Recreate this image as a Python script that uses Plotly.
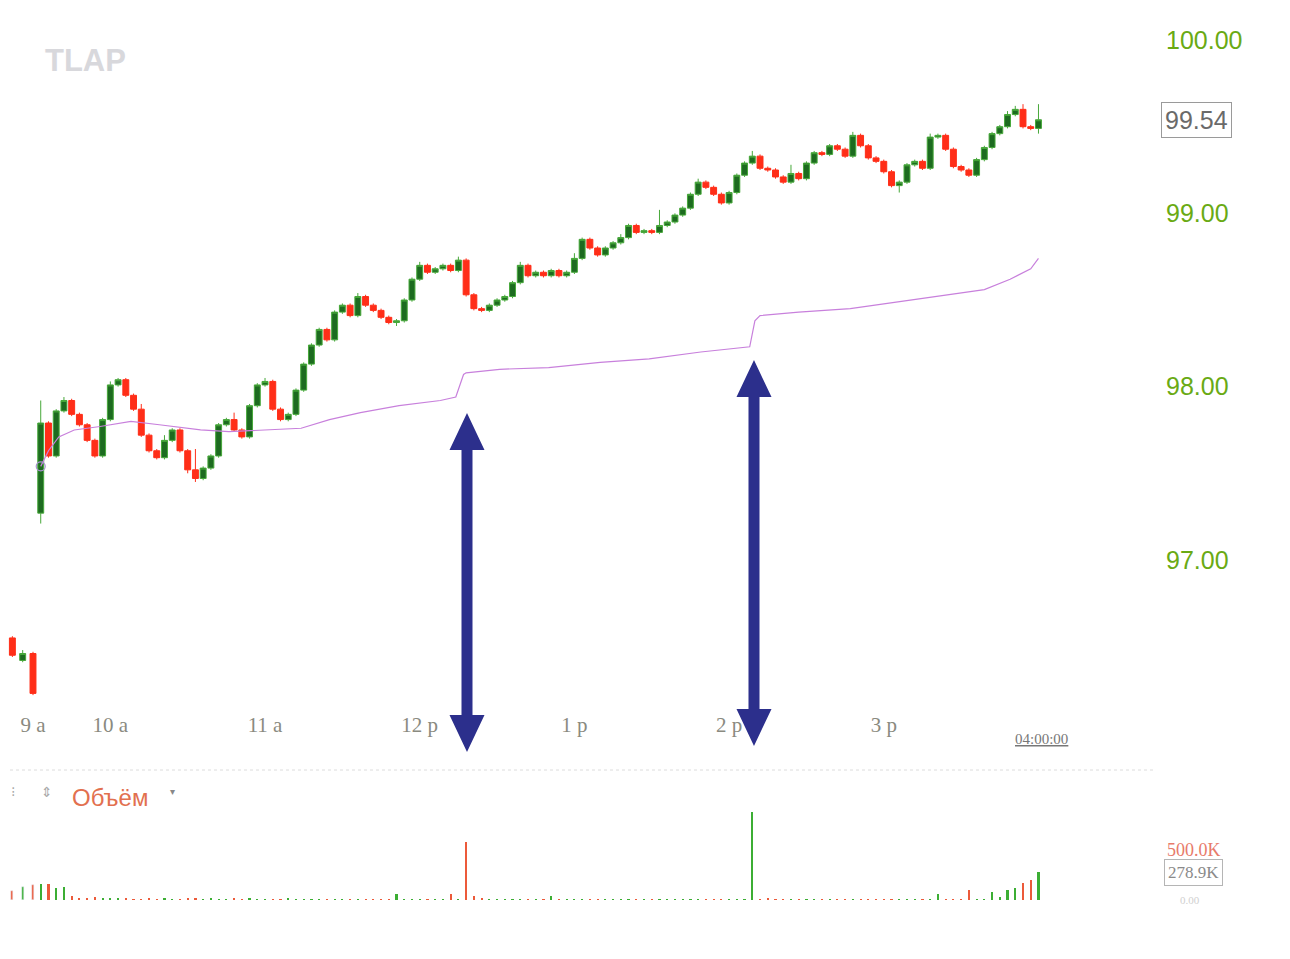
import plotly.graph_objects as go
import pandas as pd

DAY = "2024-03-04 "

# ---------------- data ----------------
first_open = 97.27
close = [97.79, 97.60, 97.86, 97.92, 97.84, 97.78, 97.69, 97.60, 97.81, 98.01,
         98.04, 97.95, 97.87, 97.72, 97.63, 97.59, 97.69, 97.75, 97.63, 97.52,
         97.47, 97.53, 97.60, 97.78, 97.81, 97.75, 97.71, 97.89, 98.01, 98.03,
         97.87, 97.81, 97.84, 97.98, 98.13, 98.24, 98.33, 98.27, 98.43, 98.47,
         98.41, 98.52, 98.47, 98.44, 98.40, 98.37, 98.38, 98.50, 98.62, 98.70,
         98.66, 98.68, 98.70, 98.67, 98.73, 98.53, 98.45, 98.44, 98.47, 98.50,
         98.52, 98.60, 98.70, 98.64, 98.66, 98.64, 98.67, 98.64, 98.66, 98.74,
         98.85, 98.80, 98.76, 98.80, 98.83, 98.86, 98.93, 98.89, 98.90, 98.89,
         98.93, 98.95, 98.99, 99.03, 99.11, 99.18, 99.15, 99.11, 99.06, 99.12,
         99.22, 99.29, 99.33, 99.26, 99.25, 99.21, 99.18, 99.23, 99.20, 99.29,
         99.35, 99.34, 99.39, 99.37, 99.33, 99.45, 99.39, 99.32, 99.30, 99.24,
         99.16, 99.18, 99.28, 99.30, 99.26, 99.44, 99.45, 99.37, 99.27, 99.25,
         99.22, 99.31, 99.38, 99.46, 99.50, 99.57, 99.60, 99.50, 99.49, 99.54]

# wick extensions in cents above max(open, close) and below min(open, close)
wick_up = [13, 1, 1, 2, 1, 1, 1, 1, 1, 2,
           1, 1, 1, 3, 1, 1, 3, 1, 1, 1,
           12, 1, 1, 1, 1, 4, 1, 1, 1, 2,
           1, 1, 1, 1, 1, 1, 1, 1, 1, 1,
           1, 2, 1, 1, 1, 1, 1, 1, 1, 2,
           1, 1, 1, 1, 2, 1, 1, 1, 1, 1,
           1, 1, 2, 1, 1, 1, 1, 1, 1, 3,
           1, 1, 1, 1, 1, 2, 1, 1, 1, 1,
           9, 1, 1, 1, 1, 2, 1, 1, 1, 1,
           1, 1, 3, 1, 1, 1, 1, 5, 1, 1,
           1, 1, 1, 1, 1, 2, 1, 1, 1, 1,
           1, 1, 1, 1, 1, 2, 1, 1, 1, 1,
           1, 1, 1, 1, 1, 2, 2, 3, 1, 9]
wick_dn = [6, 1, 1, 1, 1, 1, 1, 1, 1, 1,
           1, 1, 1, 1, 1, 1, 1, 1, 1, 2,
           2, 1, 1, 1, 1, 1, 1, 1, 1, 1,
           1, 1, 1, 1, 1, 1, 1, 1, 1, 1,
           1, 1, 1, 1, 1, 1, 2, 1, 1, 1,
           1, 1, 1, 1, 1, 1, 1, 1, 1, 1,
           1, 1, 1, 1, 1, 1, 1, 1, 1, 1,
           1, 1, 1, 1, 1, 1, 1, 1, 1, 1,
           1, 1, 1, 1, 1, 1, 1, 1, 1, 1,
           1, 1, 1, 1, 1, 1, 1, 1, 1, 1,
           1, 1, 1, 1, 1, 1, 1, 1, 1, 1,
           1, 4, 1, 1, 1, 1, 1, 1, 1, 1,
           1, 1, 1, 1, 1, 1, 1, 1, 1, 3]

volume_k = [160, 165, 120, 130, 40, 25, 20, 30, 15, 20,
            15, 20, 10, 10, 25, 10, 15, 8, 10, 20,
            15, 10, 15, 10, 10, 20, 10, 15, 10, 8,
            10, 10, 15, 10, 10, 8, 10, 5, 5, 5,
            4, 5, 3, 5, 4, 3, 60, 4, 3, 5,
            4, 3, 5, 60, 8, 580, 45, 20, 6, 3,
            4, 3, 3, 5, 3, 4, 40, 3, 3, 4,
            3, 4, 3, 3, 2, 3, 4, 3, 3, 3,
            3, 3, 2, 3, 4, 3, 3, 2, 3, 4,
            3, 4, 880, 10, 12, 4, 3, 3, 4, 5,
            3, 4, 3, 4, 3, 5, 3, 4, 3, 4,
            5, 4, 3, 4, 3, 5, 60, 4, 3, 4,
            100, 5, 4, 80, 30, 100, 120, 170, 200, 279]

# pre-market bars at the left edge
pre_times = ["09:22", "09:26", "09:30"]
pre_open = [96.55, 96.42, 96.46]
pre_high = [96.56, 96.48, 96.47]
pre_low = [96.44, 96.41, 96.22]
pre_close = [96.45, 96.46, 96.23]
pre_vol_k = [90, 130, 150]

# VWAP-type line
vwap_times = ["09:33", "09:36", "09:40", "09:46", "09:56", "10:08", "10:19", "10:35", "10:46",
              "10:58", "11:14", "11:25", "11:37", "11:52", "12:08", "12:14", "12:17", "12:18",
              "12:31", "12:50", "13:10", "13:29", "13:49", "14:08", "14:10", "14:12", "14:27",
              "14:47", "15:06", "15:26", "15:39", "15:49", "15:57", "16:00"]
vwap_vals = [97.54, 97.63, 97.71, 97.75, 97.77, 97.80, 97.78, 97.75, 97.74,
             97.75, 97.76, 97.81, 97.85, 97.89, 97.92, 97.94, 98.07, 98.08,
             98.10, 98.11, 98.14, 98.16, 98.20, 98.23, 98.38, 98.41, 98.43,
             98.45, 98.49, 98.53, 98.56, 98.62, 98.68, 98.74]

tick_times = ["09:30", "10:00", "11:00", "12:00", "13:00", "14:00", "15:00"]
tick_labels = ["9 a", "10 a", "11 a", "12 p", "1 p", "2 p", "3 p"]
price_ticks = [97, 98, 99, 100]
price_tick_labels = ["97.00", "98.00", "99.00", "100.00"]
last_price = 99.54
last_volume_k = 278.9

# ---------------- derived ----------------
bar_times = pd.date_range(DAY + "09:33", periods=len(close), freq="3min")
opens = [first_open] + close[:-1]
highs = [round(max(o, c) + u / 100, 2) for o, c, u in zip(opens, close, wick_up)]
lows = [round(min(o, c) - d / 100, 2) for o, c, d in zip(opens, close, wick_dn)]

GREEN_LINE = "#47a83a"
GREEN_FILL = "#1d6b20"
RED = "#ff2e18"
VOL_GREEN = "#3cae34"
VOL_RED = "#ec5a3a"

vol_colors = [VOL_GREEN if c >= o else VOL_RED for o, c in zip(opens, close)]
pre_vol_colors = [VOL_GREEN if c >= o else VOL_RED for o, c in zip(pre_open, pre_close)]

W, H = 1290, 959
R_MARGIN = 135
PW = W - R_MARGIN


def px(x):
    return x / PW


def py(y):
    return 1 - y / H


fig = go.Figure()

candle_style = dict(
    increasing=dict(line=dict(color=GREEN_LINE, width=1), fillcolor=GREEN_FILL),
    decreasing=dict(line=dict(color=RED, width=1), fillcolor=RED),
    showlegend=False, hoverinfo="skip", whiskerwidth=0,
)

fig.add_trace(go.Candlestick(x=[DAY + t for t in pre_times], open=pre_open, high=pre_high,
                             low=pre_low, close=pre_close, xaxis="x", yaxis="y", **candle_style))
fig.add_trace(go.Candlestick(x=bar_times, open=opens, high=highs, low=lows, close=close,
                             xaxis="x", yaxis="y", **candle_style))

fig.add_trace(go.Scatter(x=[DAY + t for t in vwap_times], y=vwap_vals, mode="lines",
                         line=dict(color="#c880dc", width=1.2), showlegend=False,
                         hoverinfo="skip", xaxis="x", yaxis="y"))
fig.add_trace(go.Scatter(x=[DAY + vwap_times[0]], y=[vwap_vals[0]], mode="markers",
                         marker=dict(symbol="circle-open", size=9, color="#a890d0",
                                     line=dict(width=1.2)),
                         showlegend=False, hoverinfo="skip", xaxis="x", yaxis="y"))

fig.add_trace(go.Bar(x=[DAY + t for t in pre_times], y=pre_vol_k, marker_color=pre_vol_colors,
                     width=50000, showlegend=False, hoverinfo="skip", xaxis="x2", yaxis="y2"))
fig.add_trace(go.Bar(x=bar_times, y=volume_k, marker_color=vol_colors, marker_line_width=0,
                     width=50000, showlegend=False, hoverinfo="skip", xaxis="x2", yaxis="y2"))

x_range = [DAY + "09:17:12", DAY + "16:45:12"]

fig.update_layout(
    width=W, height=H,
    margin=dict(l=0, r=R_MARGIN, t=0, b=0),
    paper_bgcolor="white", plot_bgcolor="white",
    boxgap=0.1, boxgroupgap=0.15,
    bargap=0,
    xaxis=dict(domain=[0, 1], range=x_range, type="date", anchor="y",
               tickvals=[DAY + t for t in tick_times], ticktext=tick_labels,
               tickfont=dict(family="Liberation Serif", size=21, color="#8a8a80"),
               showgrid=False, zeroline=False, showline=False, ticks="",
               rangeslider=dict(visible=False), ticklabelstandoff=5),
    yaxis=dict(domain=[py(705), 1], range=[96.163, 100.231], side="right", anchor="x",
               tickvals=price_ticks, ticktext=price_tick_labels,
               tickfont=dict(family="Liberation Sans", size=25, color="#6aaa14"),
               showgrid=False, zeroline=False, showline=False, ticks="",
               ticklabelstandoff=10),
    xaxis2=dict(domain=[0, 1], range=x_range, type="date", anchor="y2", visible=False),
    yaxis2=dict(domain=[py(900), py(770)], range=[0, 1300], anchor="x2", visible=False),
)


def arrow_path(cx, ty, by, hl=37, hw=17.5, sw=5.5):
    pts = [(cx, ty), (cx + hw, ty + hl), (cx + sw, ty + hl), (cx + sw, by - hl),
           (cx + hw, by - hl), (cx, by), (cx - hw, by - hl), (cx - sw, by - hl),
           (cx - sw, ty + hl), (cx - hw, ty + hl)]
    return "M" + " L".join(f"{px(x):.5f},{py(y):.5f}" for x, y in pts) + " Z"


shapes = [
    dict(type="line", xref="paper", yref="paper", x0=px(10), x1=1, y0=py(770), y1=py(770),
         line=dict(color="#dcdcdc", width=1, dash="dot")),
    dict(type="path", xref="paper", yref="paper", path=arrow_path(467, 413, 752),
         fillcolor="#2c2f8c", line=dict(width=0)),
    dict(type="path", xref="paper", yref="paper", path=arrow_path(754, 360, 746),
         fillcolor="#2c2f8c", line=dict(width=0)),
]
fig.update_layout(shapes=shapes)

ann_common = dict(xanchor="center", yanchor="middle", showarrow=False)
annotations = [
    dict(text="<b>TLAP</b>", x=px(85), y=py(60), xref="paper", yref="paper",
         font=dict(family="Liberation Sans", size=31, color="#d8d8dc"), **ann_common),
    dict(text=f"{last_price:.2f}", x=px(1196), y=last_price, xref="paper", yref="y",
         font=dict(family="Liberation Sans", size=25, color="#6a6a6a"),
         bordercolor="#9a9a9a", borderwidth=1, borderpad=3, bgcolor="white", **ann_common),
    dict(text="<u>04:00:00</u>", x=px(1041), y=py(739), xref="paper", yref="paper",
         font=dict(family="Liberation Serif", size=15, color="#777777"), **ann_common),
    dict(text="Объём", x=px(110), y=py(797), xref="paper", yref="paper",
         font=dict(family="Liberation Sans", size=24, color="#e2704f"), **ann_common),
    dict(text="⁝", x=px(13), y=py(792), xref="paper", yref="paper",
         font=dict(family="DejaVu Sans", size=14, color="#aaaaaa"), **ann_common),
    dict(text="⇕", x=px(47), y=py(792), xref="paper", yref="paper",
         font=dict(family="DejaVu Sans", size=14, color="#aaaaaa"), **ann_common),
    dict(text="▾", x=px(172), y=py(791), xref="paper", yref="paper",
         font=dict(family="DejaVu Sans", size=10, color="#888888"), **ann_common),
    dict(text="500.0K", x=px(1194), y=500, xref="paper", yref="y2",
         font=dict(family="Liberation Serif", size=18, color="#e87a6a"), **ann_common),
    dict(text=f"{last_volume_k:.1f}K", x=px(1193), y=last_volume_k, xref="paper", yref="y2",
         font=dict(family="Liberation Serif", size=17, color="#8a8a8a"),
         bordercolor="#b5b5b5", borderwidth=1, borderpad=3, bgcolor="white", **ann_common),
    dict(text="0.00", x=px(1190), y=0, xref="paper", yref="y2",
         font=dict(family="Liberation Serif", size=11, color="#d0d0d0"), **ann_common),
]
fig.update_layout(annotations=annotations)

fig.write_html("out.html", config={"displayModeBar": False})
